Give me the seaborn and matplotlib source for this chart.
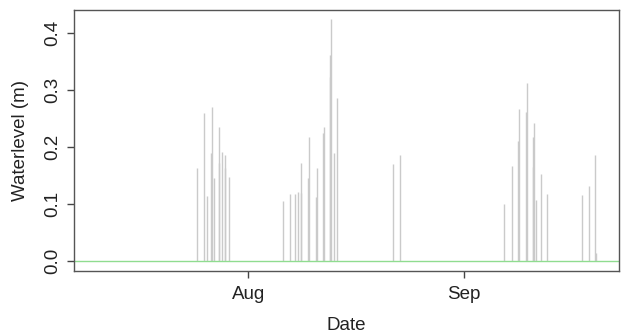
import pandas as pd
import numpy as np
import matplotlib
matplotlib.use('Agg')
import matplotlib.pyplot as plt
import matplotlib.dates as mdates
import seaborn as sns

# event times and water levels
times = [
    '2019-07-24 15:20', '2019-07-25 16:30', '2019-07-26 00:45', '2019-07-26 16:30',
    '2019-07-26 19:00', '2019-07-27 03:00', '2019-07-27 18:00', '2019-07-27 20:00',
    '2019-07-28 04:20', '2019-07-28 14:40', '2019-07-28 17:00', '2019-07-29 06:30',
    '2019-08-05 22:30', '2019-08-07 00:40', '2019-08-07 18:00', '2019-08-08 03:10',
    '2019-08-08 12:30', '2019-08-08 14:40', '2019-08-09 14:40', '2019-08-09 17:00',
    '2019-08-10 16:10', '2019-08-10 19:40', '2019-08-11 17:20', '2019-08-11 19:40',
    '2019-08-12 17:20', '2019-08-12 18:30', '2019-08-12 19:50', '2019-08-13 06:10',
    '2019-08-13 18:30',
    '2019-08-21 17:20', '2019-08-22 17:30',
    '2019-09-06 17:45', '2019-09-07 19:10', '2019-09-08 18:00', '2019-09-08 20:20',
    '2019-09-09 20:25', '2019-09-09 22:50', '2019-09-10 19:30', '2019-09-10 21:40',
    '2019-09-11 00:00', '2019-09-11 08:00', '2019-09-11 23:00', '2019-09-12 21:50',
    '2019-09-17 20:25', '2019-09-18 20:25', '2019-09-19 19:10', '2019-09-19 21:40',
]
levels = [
    0.163, 0.260, 0.114, 0.190,
    0.271, 0.145, 0.172, 0.235,
    0.192, 0.163, 0.186, 0.147,
    0.106, 0.117, 0.117, 0.122,
    0.120, 0.173, 0.145, 0.218,
    0.113, 0.163, 0.225, 0.236,
    0.362, 0.324, 0.425, 0.189,
    0.286,
    0.170, 0.186,
    0.100, 0.167, 0.211, 0.267,
    0.261, 0.312, 0.166, 0.218,
    0.242, 0.108, 0.153, 0.118,
    0.116, 0.131, 0.186, 0.014,
]

df = pd.DataFrame({'Date': pd.to_datetime(times), 'Waterlevel': levels})

sns.set_style('ticks')
plt.rcParams['font.family'] = ['Liberation Sans', 'DejaVu Sans']

fig = plt.figure(figsize=(6.23, 3.36), dpi=100)
ax = fig.add_axes([74 / 623, 65 / 336, 545 / 623, 261 / 336])

ax.vlines(df['Date'], 0, df['Waterlevel'], color='#cacaca', lw=1)
ax.axhline(0, color='#90dc90', lw=1)

ax.set_xlim(pd.Timestamp('2019-07-07 00:00'), pd.Timestamp('2019-09-23 05:00'))
ax.set_ylim(-0.0176, 0.441)
ax.xaxis.set_major_locator(mdates.MonthLocator(bymonthday=1, bymonth=[8, 9]))
ax.xaxis.set_major_formatter(mdates.DateFormatter('%b'))
ax.set_yticks([0.0, 0.1, 0.2, 0.3, 0.4])
ax.set_yticklabels(['0.0', '0.1', '0.2', '0.3', '0.4'], rotation=90, va='center')

ax.tick_params(direction='out', length=5, width=1, color='#444444',
               labelsize=13.5, labelcolor='#222222')
ax.tick_params(axis='x', pad=6)
ax.tick_params(axis='y', pad=4)
for sp in ax.spines.values():
    sp.set_color('#555555')
    sp.set_linewidth(1)

ax.set_xlabel('Date', fontsize=13.5, color='#222222', labelpad=10)
ax.set_ylabel('Waterlevel (m)', fontsize=13.5, color='#222222', labelpad=11)

fig.savefig('out.png', dpi=100)
